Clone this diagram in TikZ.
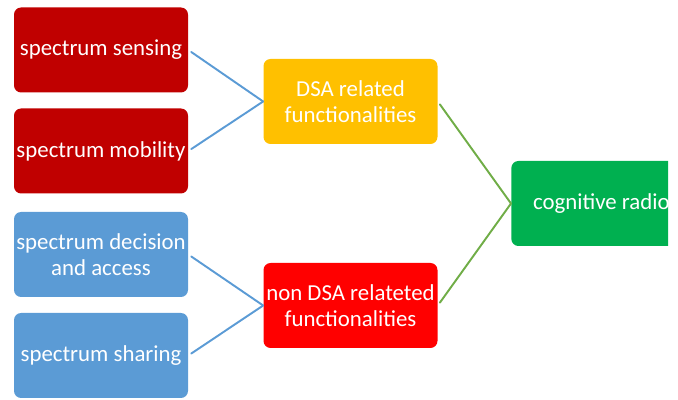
\documentclass[tikz,border=0pt]{standalone}
\usepackage{fontspec}
\setmainfont{Carlito}
\definecolor{boxdarkred}{HTML}{C00000}
\definecolor{boxgold}{HTML}{FFC000}
\definecolor{boxblue}{HTML}{5B9BD5}
\definecolor{boxred}{HTML}{FF0000}
\definecolor{boxgreen}{HTML}{00B050}
\definecolor{lineblue}{HTML}{5B9BD5}
\definecolor{linegreen}{HTML}{70AD47}
\begin{document}
\begin{tikzpicture}[line join=round,line cap=round,font=\fontsize{13}{14.5}\selectfont,
  box/.style={rounded corners=4pt,text=white,align=center,minimum width=3.48cm,minimum height=1.7cm,inner sep=1pt},
  blueline/.style={draw=lineblue,line width=1.1pt,shorten <=2pt},
  greenline/.style={draw=linegreen,line width=1.1pt,shorten <=2pt}]
\useasboundingbox (0,0) rectangle (13.56,8);
\clip (0,0) rectangle (13.36,8); % picture is cut at the right
% left column
\node[box,fill=boxdarkred] (sensing) at (2.02,7.00) {spectrum sensing};
\node[box,fill=boxdarkred] (mobility) at (2.02,4.98) {spectrum mobility};
\node[box,fill=boxblue] (decision) at (2.02,2.91) {spectrum decision\\and access};
\node[box,fill=boxblue] (sharing) at (2.02,0.89) {spectrum sharing};
% middle column
\node[box,fill=boxgold] (dsa) at (7.01,5.97) {DSA related\\functionalities};
\node[box,fill=boxred] (nondsa) at (7.01,1.89) {non DSA relateted\\functionalities};
% right
\node[box,fill=boxgreen,anchor=west,minimum width=3.6cm] (cr) at (10.22,3.93) {cognitive radio};
\draw[blueline] (sensing.east) -- (dsa.west);
\draw[blueline] (mobility.east) -- (dsa.west);
\draw[blueline] (decision.east) -- (nondsa.west);
\draw[blueline] (sharing.east) -- (nondsa.west);
\draw[greenline] (dsa.east) -- (cr.west);
\draw[greenline] (nondsa.east) -- (cr.west);
\end{tikzpicture}
\end{document}
